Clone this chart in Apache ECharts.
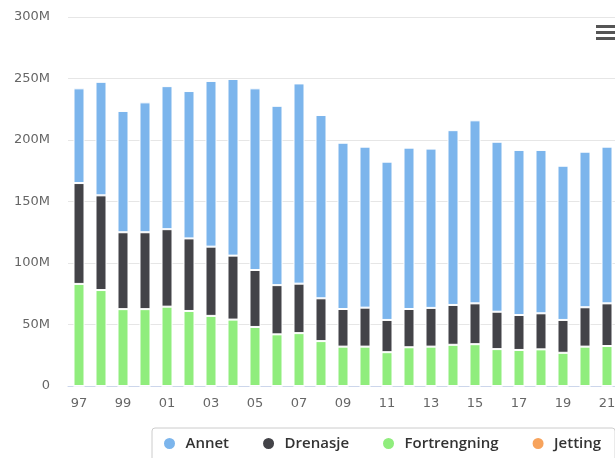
<!DOCTYPE html>
<html>
<head>
<meta charset="utf-8">
<script src="https://cdn.jsdelivr.net/npm/echarts@6/dist/echarts.min.js"></script>
<style>
html,body{margin:0;padding:0;width:615px;height:458px;overflow:hidden;background:#fff;}
#chart{width:632px;height:458px;}
</style>
</head>
<body>
<div id="chart"></div>
<script>
const years = ['97','98','99','00','01','02','03','04','05','06','07','08','09','10','11','12','13','14','15','16','17','18','19','20','21'];
const annet = [77,92.3,98.6,105.6,116.3,119.8,134.7,143.6,147.7,145.8,162.8,149,135.2,130.9,128.7,131.2,129.5,142.1,148.8,138.2,134.2,132.8,125.4,126.5,127.4];
const drenasje = [82,77,62.5,62.5,63,59,56.3,52,46.3,40,40.2,34.8,30.6,31.7,26.2,31.1,31.5,32.4,33.2,30.4,28.4,29.3,26.7,32,34.7];
const fortrengning = [83,78,62.5,62.5,64.5,61,57,54,48,42,43,36.5,32,32,27.5,31.5,32,33.5,34,30,29.3,29.8,27,32,32.5];
const jetting = [0,0,0,0,0,0,0,0,0,0,0,0,0,0,0,0,0,0,0,0,0,0,0,0,0];
const yTicks = [0,50,100,150,200,250,300];

const colors = {Annet:'#7cb5ec', Drenasje:'#434348', Fortrengning:'#90ed7d', Jetting:'#f7a35c'};
const chart = echarts.init(document.getElementById('chart'), null, {renderer:'canvas'});
function bar(name, data, z){
  return {name, type:'bar', stack:'total', data, barWidth:11, z,
    itemStyle:{color:colors[name], borderColor:'#fff', borderWidth:1},
    emphasis:{disabled:true}};
}
chart.setOption({
  animation:false,
  color:[colors.Annet, colors.Drenasje, colors.Fortrengning, colors.Jetting],
  grid:{left:68, right:14, top:17, bottom:72, containLabel:false},
  xAxis:{type:'category', data:years,
    axisLine:{lineStyle:{color:'#ccd6eb'}}, axisTick:{show:false},
    axisLabel:{interval:1, color:'#666', fontFamily:'DejaVu Sans', fontSize:13, margin:11}},
  yAxis:{type:'value', min:yTicks[0], max:yTicks[yTicks.length-1], interval:50,
    axisLine:{show:false}, axisTick:{show:false},
    splitLine:{lineStyle:{color:'#e6e6e6'}},
    axisLabel:{color:'#666', fontFamily:'DejaVu Sans', fontSize:13, margin:18,
      formatter:v=> v===0 ? '0' : v+'M'}},
  legend:{data:['Annet','Drenasje','Fortrengning','Jetting'], left:152, top:428,
    icon:'circle', itemWidth:22, itemHeight:13, itemGap:32,
    borderColor:'#ccc', borderWidth:1, borderRadius:3, padding:[8,14,10,10],
    textStyle:{color:'#333', fontFamily:'Open Sans', fontSize:15, fontWeight:600}},
  graphic:[
    {type:'rect', shape:{x:596,y:25,width:24,height:3}, style:{fill:'#555'}},
    {type:'rect', shape:{x:596,y:31,width:24,height:3}, style:{fill:'#555'}},
    {type:'rect', shape:{x:596,y:37,width:24,height:3}, style:{fill:'#555'}}
  ],
  series:[
    bar('Jetting', jetting, 1),
    bar('Fortrengning', fortrengning, 2),
    bar('Drenasje', drenasje, 3),
    bar('Annet', annet, 4)
  ]
});
</script>
</body>
</html>
